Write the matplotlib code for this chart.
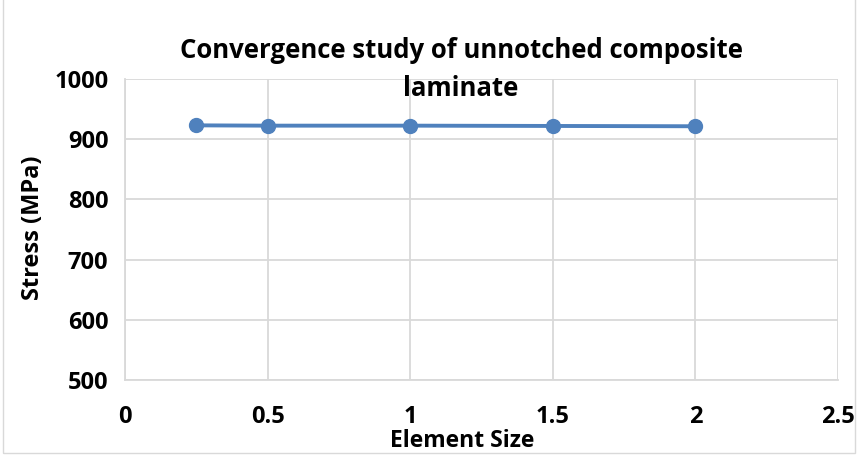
import matplotlib.pyplot as plt

# Data
element_size = [0.25, 0.5, 1.0, 1.5, 2.0]
stress = [923, 922.5, 922.5, 922, 921.5]

x_ticks = [0, 0.5, 1, 1.5, 2, 2.5]
x_tick_labels = ["0", "0.5", "1", "1.5", "2", "2.5"]
y_ticks = [500, 600, 700, 800, 900, 1000]

plt.rcParams['font.family'] = ['Open Sans', 'DejaVu Sans']
plt.rcParams['font.weight'] = 'bold'

fig = plt.figure(figsize=(8.62, 4.55), dpi=100)
ax = fig.add_axes([125 / 862, 1 - 380 / 455, (838 - 125) / 862, (380 - 79) / 455])

ax.plot(element_size, stress, color='#4f81bd', linewidth=2.8, marker='o',
        markersize=10, zorder=3)

ax.set_xlim(0, 2.5)
ax.set_ylim(500, 1000)
ax.set_xticks(x_ticks)
ax.set_xticklabels(x_tick_labels)
ax.set_yticks(y_ticks)
ax.grid(True, color='#d9d9d9', linewidth=1.3)
ax.set_axisbelow(True)
for side in ['top', 'right']:
    ax.spines[side].set_visible(False)
for side in ['left', 'bottom']:
    ax.spines[side].set_color('#d9d9d9')
    ax.spines[side].set_linewidth(1.3)
ax.tick_params(length=0, labelsize=17)
ax.tick_params(axis='x', pad=18)
ax.tick_params(axis='y', pad=12)

fig.text(461 / 862, 1 - 50 / 455, "Convergence study of unnotched composite",
         ha='center', va='center', fontsize=18.5, fontweight='bold')
fig.text(461 / 862, 1 - 88 / 455, "laminate",
         ha='center', va='center', fontsize=18.5, fontweight='bold')
fig.text(462 / 862, 1 - 441 / 455, "Element Size", ha='center', va='center',
         fontsize=16.5, fontweight='bold')
fig.text(33 / 862, 1 - 228 / 455, "Stress (MPa)", ha='center', va='center',
         rotation=90, fontsize=17, fontweight='bold')

# light chart frame
fig.patches.append(plt.Rectangle((0.004, 0.004), 0.988, 1.2, transform=fig.transFigure,
                                 fill=False, edgecolor='#d9d9d9', linewidth=1))

fig.savefig('out.png', dpi=100)
